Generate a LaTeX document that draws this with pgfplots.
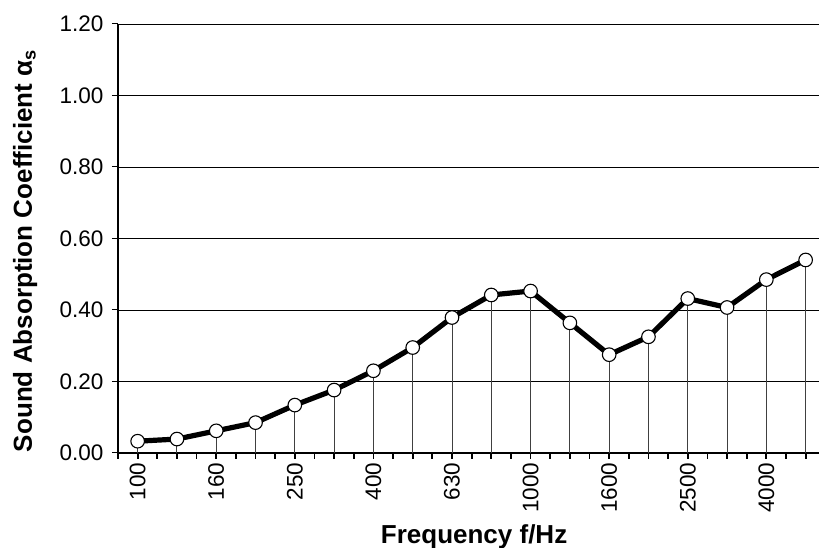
\documentclass[border=0pt]{standalone}
\usepackage{pgfplots}
\pgfplotsset{compat=1.18}
\usepackage{fontspec}
\setmainfont{Liberation Sans}
\pgfplotstableread{
x y
0 0.033
1 0.039
2 0.062
3 0.085
4 0.134
5 0.176
6 0.230
7 0.295
8 0.379
9 0.442
10 0.453
11 0.364
12 0.275
13 0.325
14 0.432
15 0.407
16 0.485
17 0.540
}\datatable
\begin{document}
\begin{tikzpicture}
\begin{axis}[
  at={(0pt,0pt)}, anchor=south west,
  scale only axis, width=701pt, height=429pt,
  xmin=-0.5, xmax=17.34, ymin=0, ymax=1.2,
  axis x line=bottom, axis y line=left,
  x axis line style={-, line width=2.8pt},
  y axis line style={-, line width=1.2pt},
  ytick={0,0.2,0.4,0.6,0.8,1.0,1.2},
  yticklabels={0.00,0.20,0.40,0.60,0.80,1.00,1.20},
  ymajorgrids, grid style={black, line width=0.9pt},
  xtick={0,2,4,6,8,10,12,14,16},
  xticklabels={100,160,250,400,630,1000,1600,2500,4000},
  minor xtick={-0.5,0,0.5,1,1.5,2,2.5,3,3.5,4,4.5,5,5.5,6,6.5,7,7.5,8,8.5,9,9.5,10,10.5,11,11.5,12,12.5,13,13.5,14,14.5,15,15.5,16,16.5,17},
  tick align=outside,
  major tick length=6pt, minor tick length=6pt,
  xtick style={black, line width=1.8pt},
  ytick style={black, line width=1pt},
  minor x tick style={black, line width=1.8pt},
  xticklabel style={rotate=90, anchor=east, font=\fontsize{22.5}{26}\selectfont},
  yticklabel style={font=\fontsize{22.5}{26}\selectfont, xshift=-5pt},
  xlabel={Frequency f/Hz},
  ylabel={Sound Absorption Coefficient α\textsubscript{s}},
  xlabel style={at={(axis description cs:0.508,-0.2098)}, anchor=base, font=\fontsize{26}{30}\bfseries},
  ylabel style={at={(axis description cs:-0.1227,0.471)}, anchor=base, rotate=0, font=\fontsize{26}{30}\bfseries},
  clip=false,
]
\addplot[ycomb, black!75, line width=0.9pt, no marks] table[x=x,y=y] {\datatable};
\addplot[black, line width=5.2pt, mark=*, mark size=6.8pt,
  mark options={fill=white, draw=black, line width=1.1pt}] table[x=x,y=y] {\datatable};
\end{axis}
\pgfresetboundingbox
\useasboundingbox (-118pt,-95pt) rectangle (701pt,453pt);
\end{tikzpicture}
\end{document}
